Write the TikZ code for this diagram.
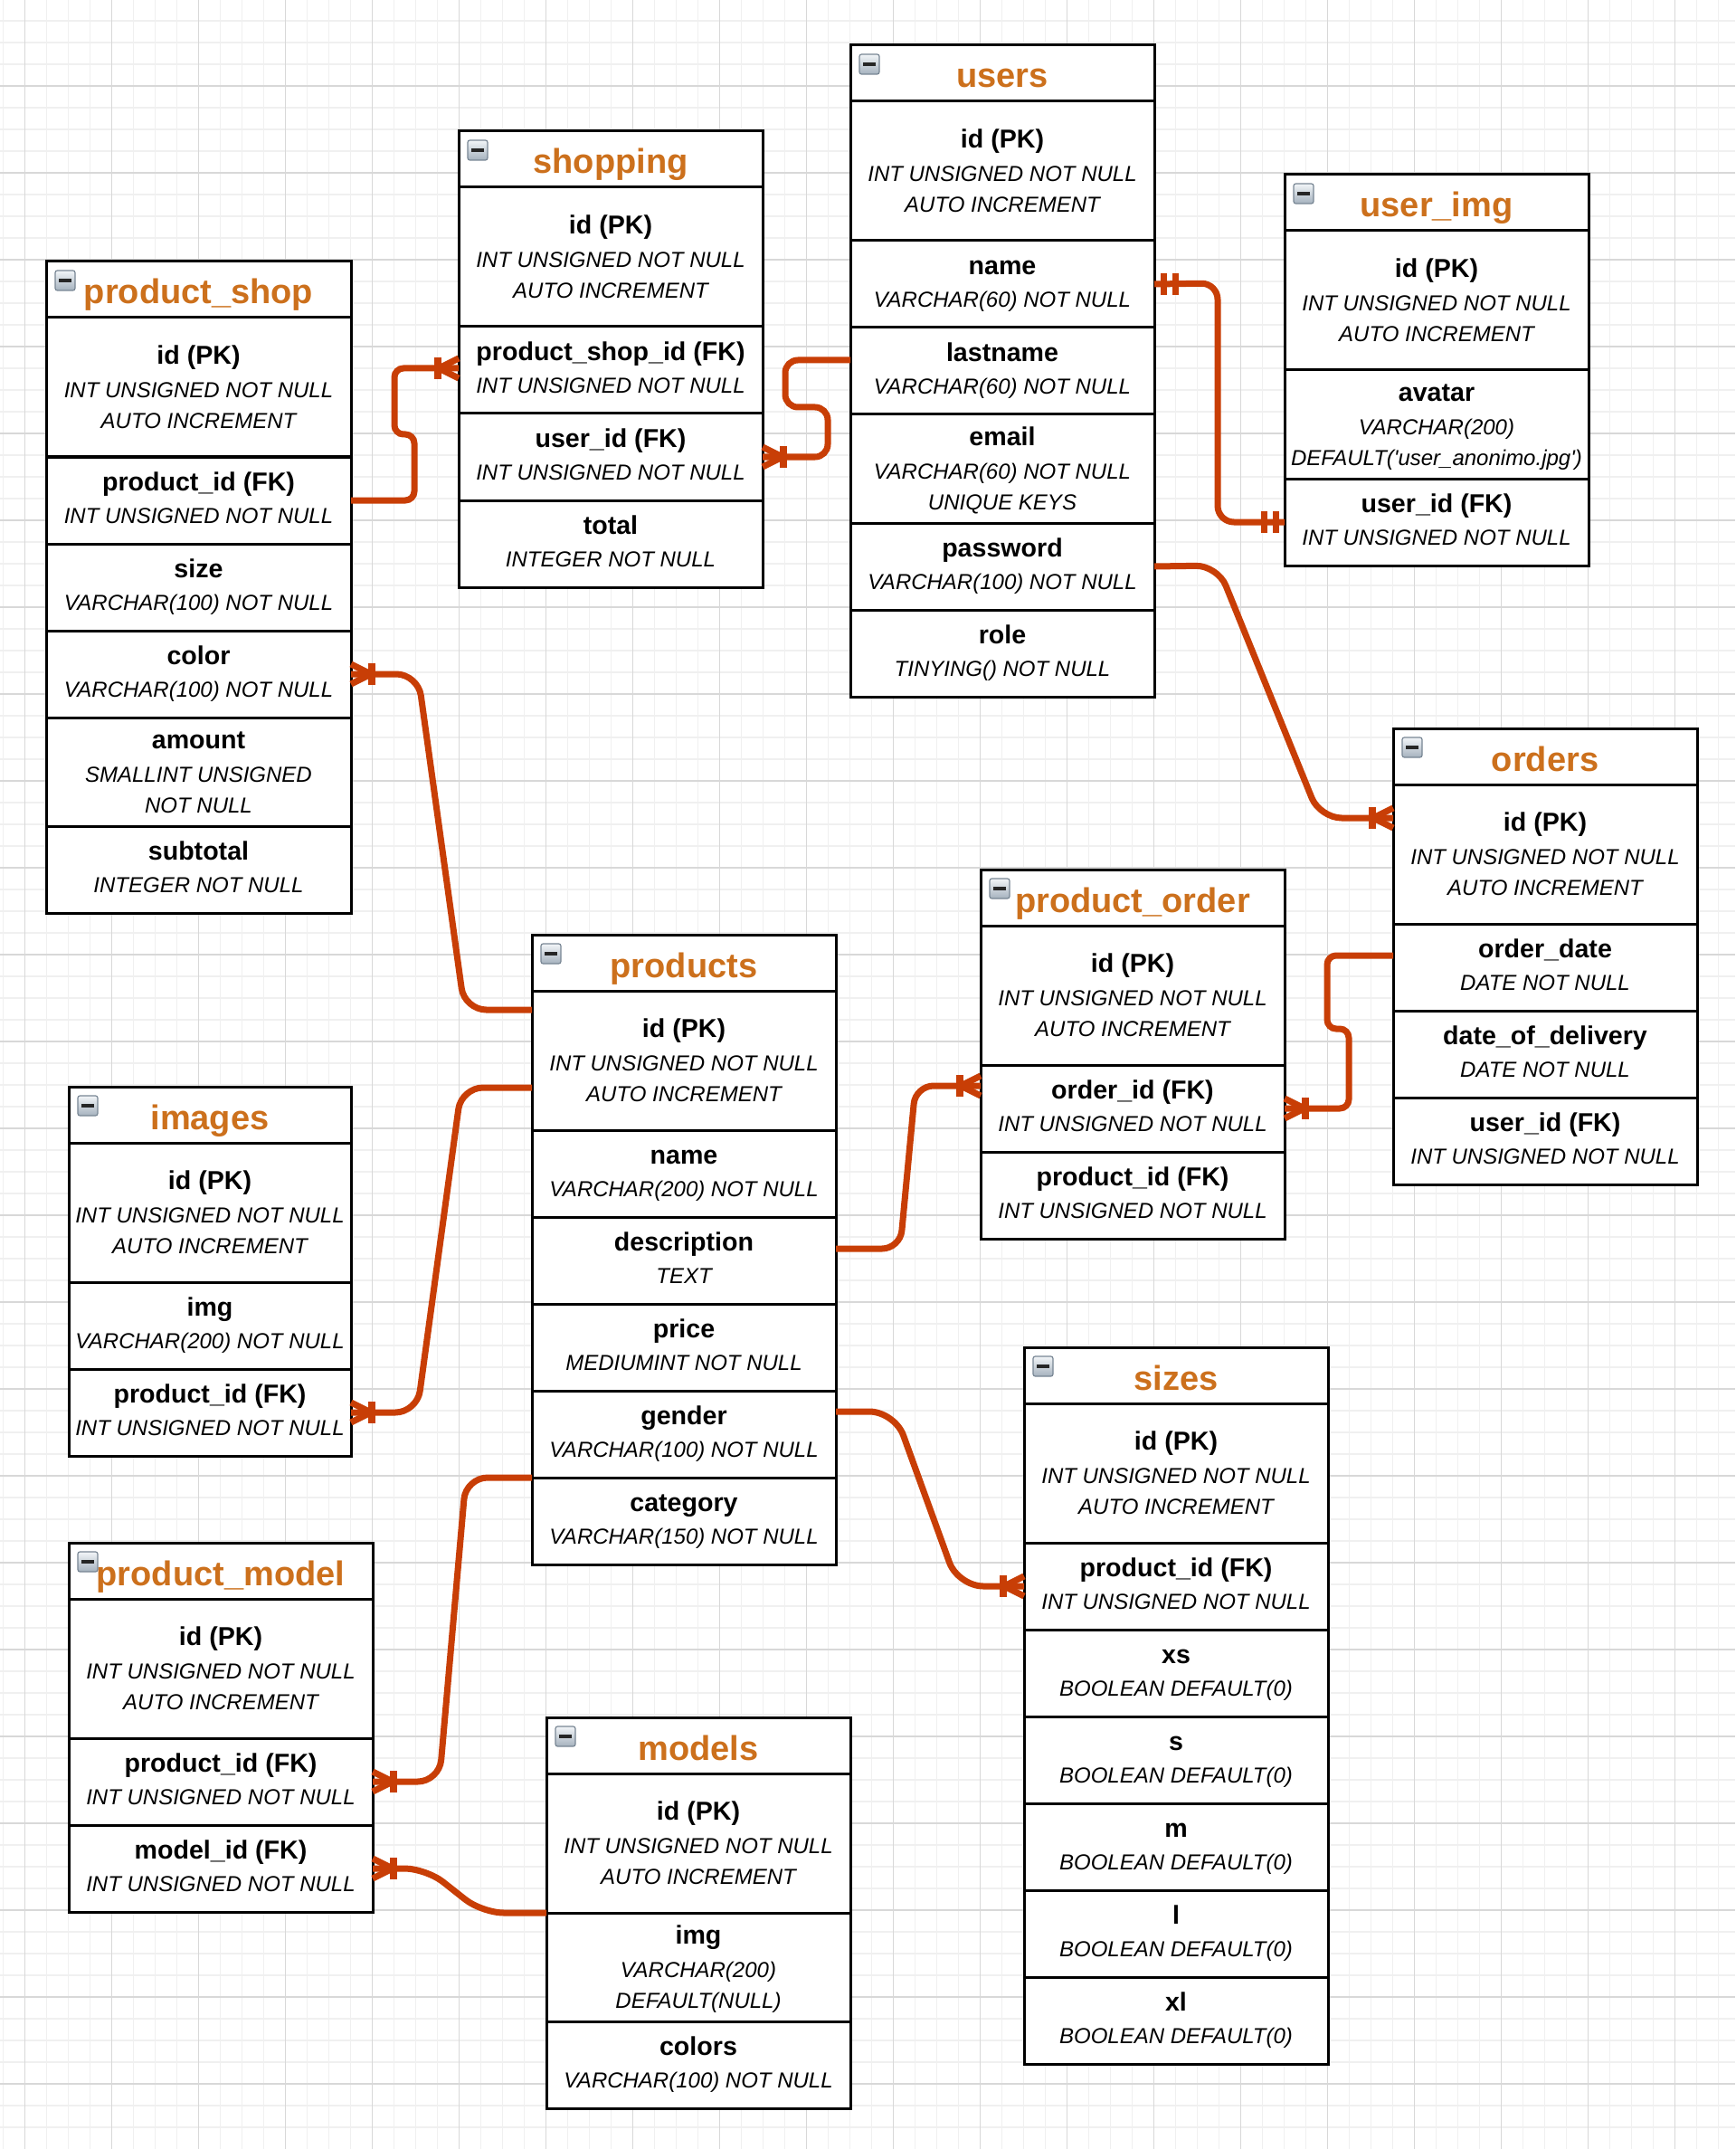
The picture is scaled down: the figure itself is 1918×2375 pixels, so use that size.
\documentclass[tikz,border=0pt]{standalone}
\usepackage{fontspec}
\setmainfont{Liberation Sans}
\usetikzlibrary{calc}
\definecolor{connc}{RGB}{200,62,6}
\definecolor{titlec}{RGB}{204,112,28}
\definecolor{gridmin}{RGB}{240,240,240}
\definecolor{gridmaj}{RGB}{216,216,216}
\definecolor{icb}{RGB}{120,134,148}
\definecolor{ictop}{RGB}{242,245,248}
\definecolor{icbot}{RGB}{165,178,190}
\newcommand\fn[1]{\rule{0pt}{12.8pt}{\fontsize{14.3}{17.3}\selectfont\bfseries\upshape #1}\\[0.9pt]}
\newcommand\fk[1]{\rule{0pt}{15.4pt}{\fontsize{14.3}{17.3}\selectfont\bfseries\upshape #1}\\[0.9pt]}
\newcommand\ertable[5]{\def\tw{#4}%
  \node[hdr, minimum width=#4*0.5pt] (#1) at (#2,#3) {};
  \node[ttl] (#1t) at ([yshift=-23.5pt]#1.north) {#5};
  \pic at (#1.north west) {icon};}
\newcommand\erow[4]{\node[fld, minimum width=\tw*0.5pt, minimum height=#3*0.5pt, anchor=north] (#1) at (#2.south) {#4\rule[-5.2pt]{0pt}{0pt}};}
\begin{document}
\begin{tikzpicture}[x=0.5pt,y=-0.5pt,
  hdr/.style={draw=black, line width=1.5pt, fill=white, anchor=north west, minimum height=31pt, inner sep=0pt, outer sep=0pt},
  fld/.style={draw=black, line width=1.5pt, fill=white, inner sep=0pt, outer sep=0pt, align=center, font=\fontsize{12}{17.3}\selectfont\itshape},
  ttl/.style={anchor=base, inner sep=0pt, text=titlec, font=\fontsize{19}{22}\selectfont\bfseries},
  conn/.style={draw=connc, line width=3.5pt},
  minorl/.style={draw=gridmin, line width=0.6pt},
  majorl/.style={draw=gridmaj, line width=0.7pt},
  icon/.pic={
    \draw[draw=icb, line width=0.6pt, rounded corners=1.2pt, top color=ictop, bottom color=icbot] (10,10) rectangle (32,32);
    \draw[line width=1.6pt, draw=black!85] (14,21) -- (28,21);
  },
  crowR/.pic={
    \draw[conn] (0,-11) -- (-22,0) -- (0,11);
    \draw[conn, line width=4pt] (-23,-12) -- (-23,12);
  },
  barsR/.pic={
    \draw[conn] (-10,-12) -- (-10,12) (-23,-12) -- (-23,12);
  }
]
\fill[white] (0,0) rectangle (1918,2375);
\useasboundingbox (0,0) rectangle (1918,2375);
% grid
\foreach \i in {0,...,79} \draw[minorl] ({3.7+24*\i},0) -- ({3.7+24*\i},2375);
\foreach \i in {1,...,98} \draw[minorl] (0,{-1+24*\i}) -- (1918,{-1+24*\i});
\foreach \i in {0,...,19} \draw[majorl] ({27.7+96*\i},0) -- ({27.7+96*\i},2375);
\foreach \i in {0,...,23} \draw[majorl] (0,{95+96*\i}) -- (1918,{95+96*\i});

% users
\ertable{us}{940}{50}{336}{users}
\erow{us_id}{us}{154}{\fk{id (PK)}INT UNSIGNED NOT NULL\\AUTO INCREMENT}
\erow{us_name}{us_id}{96}{\fn{name}VARCHAR(60) NOT NULL}
\erow{us_last}{us_name}{96}{\fn{lastname}VARCHAR(60) NOT NULL}
\erow{us_email}{us_last}{120}{\fk{email}VARCHAR(60) NOT NULL\\UNIQUE KEYS}
\erow{us_pass}{us_email}{96}{\fn{password}VARCHAR(100) NOT NULL}
\erow{us_role}{us_pass}{96}{\fn{role}TINYING() NOT NULL}

% user_img
\ertable{ui}{1420}{193}{336}{user\_img}
\erow{ui_id}{ui}{154}{\fk{id (PK)}INT UNSIGNED NOT NULL\\AUTO INCREMENT}
\erow{ui_av}{ui_id}{120}{\fk{avatar}VARCHAR(200)\\DEFAULT(\textquotesingle user\_anonimo.jpg\textquotesingle)}
\erow{ui_uid}{ui_av}{96}{\fn{user\_id (FK)}INT UNSIGNED NOT NULL}

% shopping
\ertable{sh}{507}{145}{336}{shopping}
\erow{sh_id}{sh}{154}{\fk{id (PK)}INT UNSIGNED NOT NULL\\AUTO INCREMENT}
\erow{sh_psid}{sh_id}{96}{\fn{product\_shop\_id (FK)}INT UNSIGNED NOT NULL}
\erow{sh_uid}{sh_psid}{96}{\fn{user\_id (FK)}INT UNSIGNED NOT NULL}
\erow{sh_tot}{sh_uid}{96}{\fn{total}INTEGER NOT NULL}

% product_shop
\ertable{ps}{51}{289}{337}{product\_shop}
\erow{ps_id}{ps}{154}{\fk{id (PK)}INT UNSIGNED NOT NULL\\AUTO INCREMENT}
\erow{ps_pid}{ps_id}{96}{\fn{product\_id (FK)}INT UNSIGNED NOT NULL}
\erow{ps_size}{ps_pid}{96}{\fn{size}VARCHAR(100) NOT NULL}
\erow{ps_color}{ps_size}{96}{\fn{color}VARCHAR(100) NOT NULL}
\erow{ps_amt}{ps_color}{120}{\fk{amount}SMALLINT UNSIGNED\\NOT NULL}
\erow{ps_sub}{ps_amt}{96}{\fn{subtotal}INTEGER NOT NULL}

% products
\ertable{pr}{588}{1033}{336}{products}
\erow{pr_id}{pr}{154}{\fk{id (PK)}INT UNSIGNED NOT NULL\\AUTO INCREMENT}
\erow{pr_name}{pr_id}{96}{\fn{name}VARCHAR(200) NOT NULL}
\erow{pr_desc}{pr_name}{96}{\fn{description}TEXT}
\erow{pr_price}{pr_desc}{96}{\fn{price}MEDIUMINT NOT NULL}
\erow{pr_gender}{pr_price}{96}{\fn{gender}VARCHAR(100) NOT NULL}
\erow{pr_cat}{pr_gender}{96}{\fn{category}VARCHAR(150) NOT NULL}

% images
\ertable{im}{76}{1201}{312}{images}
\erow{im_id}{im}{154}{\fk{id (PK)}INT UNSIGNED NOT NULL\\AUTO INCREMENT}
\erow{im_img}{im_id}{96}{\fn{img}VARCHAR(200) NOT NULL}
\erow{im_pid}{im_img}{96}{\fn{product\_id (FK)}INT UNSIGNED NOT NULL}

% product_model
\ertable{pm}{76}{1705}{336}{product\_model}
\erow{pm_id}{pm}{154}{\fk{id (PK)}INT UNSIGNED NOT NULL\\AUTO INCREMENT}
\erow{pm_pid}{pm_id}{96}{\fn{product\_id (FK)}INT UNSIGNED NOT NULL}
\erow{pm_mid}{pm_pid}{96}{\fn{model\_id (FK)}INT UNSIGNED NOT NULL}

% models
\ertable{mo}{604}{1898}{336}{models}
\erow{mo_id}{mo}{154}{\fk{id (PK)}INT UNSIGNED NOT NULL\\AUTO INCREMENT}
\erow{mo_img}{mo_id}{120}{\fk{img}VARCHAR(200)\\DEFAULT(NULL)}
\erow{mo_col}{mo_img}{96}{\fn{colors}VARCHAR(100) NOT NULL}

% product_order
\ertable{po}{1084}{961}{336}{product\_order}
\erow{po_id}{po}{154}{\fk{id (PK)}INT UNSIGNED NOT NULL\\AUTO INCREMENT}
\erow{po_oid}{po_id}{96}{\fn{order\_id (FK)}INT UNSIGNED NOT NULL}
\erow{po_pid}{po_oid}{96}{\fn{product\_id (FK)}INT UNSIGNED NOT NULL}

% orders
\ertable{od}{1540}{805}{336}{orders}
\erow{od_id}{od}{154}{\fk{id (PK)}INT UNSIGNED NOT NULL\\AUTO INCREMENT}
\erow{od_date}{od_id}{96}{\fn{order\_date}DATE NOT NULL}
\erow{od_dod}{od_date}{96}{\fn{date\_of\_delivery}DATE NOT NULL}
\erow{od_uid}{od_dod}{96}{\fn{user\_id (FK)}INT UNSIGNED NOT NULL}

% sizes
\ertable{sz}{1132}{1489}{336}{sizes}
\erow{sz_id}{sz}{154}{\fk{id (PK)}INT UNSIGNED NOT NULL\\AUTO INCREMENT}
\erow{sz_pid}{sz_id}{96}{\fn{product\_id (FK)}INT UNSIGNED NOT NULL}
\erow{sz_xs}{sz_pid}{96}{\fn{xs}BOOLEAN DEFAULT(0)}
\erow{sz_s}{sz_xs}{96}{\fn{s}BOOLEAN DEFAULT(0)}
\erow{sz_m}{sz_s}{96}{\fn{m}BOOLEAN DEFAULT(0)}
\erow{sz_l}{sz_m}{96}{\fn{l}BOOLEAN DEFAULT(0)}
\erow{sz_xl}{sz_l}{96}{\fn{xl}BOOLEAN DEFAULT(0)}

% connectors
\draw[conn, rounded corners=5pt] (ps_pid.east) -- (458,553) -- (458,480) -- (436,480) -- (436,407) -- (sh_psid.west |- 0,407);
\pic at (sh_psid.west |- 0,407) {crowR};

\draw[conn, rounded corners=7pt] (us_last.west |- 0,398) -- (868,398) -- (868,450) -- (915,450) -- (915,505) -- (sh_uid.east);
\pic[xscale=-1] at (sh_uid.east) {crowR};

\draw[conn, rounded corners=9pt] (us_name.east) -- (1346,313) -- (1346,577) -- (ui_uid.west);
\pic at (ui_uid.west) {barsR};
\pic[xscale=-1] at (us_name.east) {barsR};

\draw[conn, rounded corners=12pt] (us_pass.east) -- (1346,625) -- (1459,904) -- (od_id.west |- 0,904);
\pic at (od_id.west |- 0,904) {crowR};

\draw[conn, rounded corners=12pt] (ps_color.east) -- (462,745) -- (513.5,1116) -- (pr_id.west |- 0,1116);
\pic[xscale=-1] at (ps_color.east) {crowR};

\draw[conn, rounded corners=12pt] (pr_id.west |- 0,1202) -- (510,1202) -- (461,1561) -- (im_pid.east);
\pic[xscale=-1] at (im_pid.east) {crowR};

\draw[conn, rounded corners=12pt] (pr_cat.north west) -- (515,1633) -- (485.6,1969) -- (pm_pid.east);
\pic[xscale=-1] at (pm_pid.east) {crowR};

\draw[conn, rounded corners=12pt] (mo_img.north west) -- (533,2114) -- (471,2065) -- (pm_mid.east);
\pic[xscale=-1] at (pm_mid.east) {crowR};

\draw[conn, rounded corners=10pt] (pr_desc.east |- 0,1380) -- (995,1380) -- (1012,1200) -- (po_oid.west |- 0,1200);
\pic at (po_oid.west |- 0,1200) {crowR};

\draw[conn, rounded corners=5pt] (od_date.west |- 0,1056) -- (1467,1056) -- (1467,1137) -- (1491,1137) -- (1491,1225) -- (po_oid.east);
\pic[xscale=-1] at (po_oid.east) {crowR};

\draw[conn, rounded corners=14pt] (pr_gender.east |- 0,1560) -- (989,1560) -- (1059,1753) -- (sz_pid.west);
\pic at (sz_pid.west) {crowR};
\end{tikzpicture}
\end{document}
